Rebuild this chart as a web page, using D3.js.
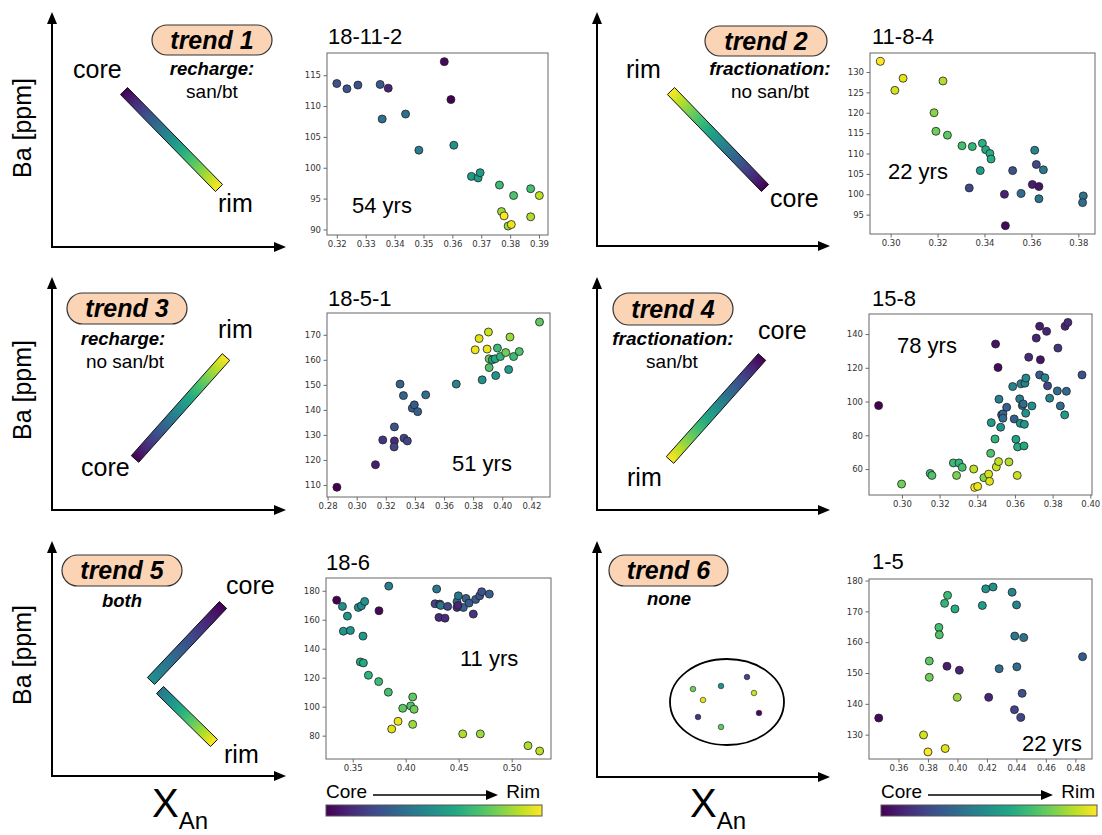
<!DOCTYPE html>
<html>
<head>
<meta charset="utf-8">
<script src="https://cdn.jsdelivr.net/npm/d3@7"></script>
<style>
  body { margin: 0; background: #fff; }
  svg text { font-family: "Liberation Sans", Arial, Helvetica, sans-serif; }
</style>
</head>
<body>
<svg id="fig" width="1102" height="835"></svg>
<script>
// ---- Sample 18-11-2 : An content, Ba [ppm], relative position core(0) -> rim(1)
const s18_11_2_xan = [0.3200,0.3235,0.3273,0.3350,0.3378,0.3572,0.3595,0.3357,0.3438,0.3484,0.3605,0.3666,0.3689,0.3696,0.3763,0.3871,0.3812,0.3901,0.3770,0.3779,0.3793,0.3804,0.3871];
const s18_11_2_ba  = [113.65,112.8,113.4,113.5,112.9,117.2,111.05,107.9,108.7,102.85,103.65,98.6,98.35,99.2,97.2,96.6,95.5,95.5,92.9,92.2,90.55,90.8,92.05];
const s18_11_2_pos = [0.25,0.25,0.25,0.28,0.1,0.02,0.0,0.37,0.37,0.42,0.5,0.55,0.55,0.55,0.68,0.7,0.72,0.9,0.85,1.0,0.85,0.97,0.88];

// ---- Sample 11-8-4
const s11_8_4_xan = [0.2956,0.3053,0.3018,0.3223,0.3185,0.3193,0.3242,0.3304,0.3348,0.3391,0.3405,0.3423,0.3428,0.3382,0.3335,0.3520,0.3485,0.3489,0.3556,0.3614,0.3621,0.3651,0.3604,0.3632,0.3632,0.3821,0.3818];
const s11_8_4_ba  = [132.6,128.45,125.5,127.8,120.0,115.45,114.5,111.9,111.7,112.5,110.95,110.0,108.65,105.8,101.55,105.8,100.0,92.3,100.2,110.8,107.3,106.0,102.4,101.9,98.9,99.6,97.95];
const s11_8_4_pos = [1.0,0.96,0.93,0.88,0.82,0.78,0.74,0.7,0.66,0.64,0.6,0.62,0.62,0.55,0.22,0.25,0.1,0.02,0.35,0.45,0.22,0.4,0.08,0.05,0.38,0.38,0.35];

// ---- Sample 18-5-1
const s18_5_1_xan = [0.2864,0.3129,0.3179,0.3259,0.3259,0.3257,0.3325,0.3348,0.3298,0.3321,0.3382,0.3396,0.3419,0.3474,0.3684,0.3862,0.3910,0.3910,0.3955,0.3932,0.3951,0.3967,0.3987,0.3814,0.3841,0.3896,0.3905,0.4024,0.4053,0.4044,0.4078,0.4117,0.4256];
const s18_5_1_ba  = [109.1,118.1,128.0,133.2,127.6,125.2,128.7,127.6,150.3,145.7,140.7,142.0,139.3,146.0,150.3,152.0,160.4,156.9,153.7,160.0,160.4,164.7,161.3,164.0,168.5,164.3,171.1,162.9,169.1,156.1,161.3,163.3,175.1];
const s18_5_1_pos = [0.0,0.08,0.15,0.25,0.12,0.2,0.22,0.2,0.32,0.32,0.3,0.28,0.3,0.36,0.45,0.5,0.78,0.72,0.52,0.6,0.6,0.68,0.65,0.97,0.95,0.97,0.92,0.78,0.85,0.55,0.68,0.72,0.75];

// ---- Sample 15-8
const s15_8_xan = [0.2876,0.2998,0.3150,0.3159,0.3273,0.3303,0.3320,0.3290,0.3381,0.3386,0.3402,0.3435,0.3460,0.3465,0.3471,0.3501,0.3513,0.3568,0.3612,0.3474,0.3494,0.3515,0.3524,0.3497,0.3510,0.3529,0.3536,0.3536,0.3556,0.3588,0.3596,0.3605,0.3614,0.3625,0.3628,0.3632,0.3639,0.3644,0.3653,0.3658,0.3650,0.3657,0.3648,0.3673,0.3690,0.3713,0.3731,0.3735,0.3731,0.3759,0.3773,0.3768,0.3784,0.3828,0.3825,0.3841,0.3866,0.3881,0.3873,0.3864,0.3956];
const s15_8_ba  = [97.6,51.1,57.4,56.2,63.6,63.6,61.0,56.2,60.0,49.1,49.7,54.9,57.0,52.7,69.3,61.2,64.4,64.2,56.2,87.5,77.8,101.4,84.8,134.1,120.2,92.1,92.7,90.1,96.6,108.9,89.7,77.6,73.1,101.6,87.1,110.5,97.6,98.6,110.9,113.9,86.5,93.1,73.7,126.3,97.4,137.6,144.6,124.8,115.8,114.1,109.3,141.6,102.0,131.7,106.3,97.4,144.6,146.9,106.1,92.1,115.8];
const s15_8_pos = [0.0,0.78,0.7,0.72,0.68,0.66,0.7,0.8,0.9,1.0,0.97,0.82,0.93,0.95,0.72,0.92,0.9,0.88,0.92,0.55,0.65,0.42,0.5,0.05,0.02,0.35,0.32,0.35,0.3,0.45,0.3,0.58,0.62,0.4,0.5,0.42,0.38,0.35,0.45,0.48,0.52,0.5,0.6,0.12,0.5,0.1,0.08,0.05,0.28,0.45,0.2,0.1,0.45,0.15,0.35,0.35,0.1,0.12,0.35,0.55,0.25];

// ---- Sample 18-6
const s18_6_xan = [0.3349,0.3403,0.3450,0.3412,0.3478,0.3553,0.3582,0.3613,0.3597,0.3748,0.3840,0.3572,0.3601,0.3648,0.3745,0.3836,0.3972,0.4047,0.4066,0.4079,0.4066,0.3928,0.3868,0.4538,0.4704,0.5154,0.5264,0.4292,0.4277,0.4321,0.4330,0.4314,0.4371,0.4396,0.4484,0.4484,0.4497,0.4544,0.4569,0.4598,0.4638,0.4660,0.4698,0.4717,0.4789,0.4494];
const s18_6_ba  = [173.5,169.2,162.5,152.1,152.6,168.5,169.6,172.6,148.7,166.2,183.2,130.9,130.2,121.7,117.3,110.0,98.9,100.5,106.7,98.2,87.8,89.9,84.6,81.2,81.2,73.1,69.4,181.2,171.0,170.8,169.9,161.6,161.1,169.2,168.5,172.4,176.5,168.5,174.7,171.5,163.9,174.0,176.5,179.3,177.7,169.9];
const s18_6_pos = [0.0,0.5,0.52,0.52,0.52,0.5,0.48,0.5,0.55,0.02,0.42,0.6,0.6,0.65,0.68,0.7,0.75,0.72,0.75,0.78,0.85,0.97,0.95,0.88,0.85,0.88,0.9,0.4,0.2,0.15,0.4,0.12,0.12,0.22,0.15,0.35,0.38,0.32,0.3,0.28,0.15,0.28,0.25,0.25,0.3,0.1];

// ---- Sample 1-5
const s1_5_xan = [0.3466,0.3770,0.3800,0.3917,0.3809,0.3809,0.3929,0.4013,0.3999,0.3874,0.3877,0.3913,0.3933,0.3983,0.4169,0.4192,0.4242,0.4371,0.4401,0.4389,0.4450,0.4283,0.4403,0.4212,0.4439,0.4387,0.4430,0.4849];
const s1_5_ba  = [135.4,129.9,124.4,125.5,153.9,148.6,152.2,150.9,142.1,164.8,162.4,172.6,175.2,170.8,171.9,177.3,177.9,176.2,172.1,162.0,161.5,151.4,152.0,142.1,143.4,138.1,135.6,155.3];
const s1_5_pos = [0.02,0.93,1.0,0.95,0.75,0.78,0.08,0.1,0.85,0.7,0.72,0.65,0.68,0.62,0.55,0.5,0.5,0.45,0.45,0.4,0.38,0.35,0.35,0.1,0.25,0.2,0.2,0.28];

// ---- Tick labels
const ticksX_18_11_2 = [0.32,0.33,0.34,0.35,0.36,0.37,0.38,0.39];
const ticksY_18_11_2 = [90,95,100,105,110,115];
const ticksX_11_8_4 = [0.30,0.32,0.34,0.36,0.38];
const ticksY_11_8_4 = [95,100,105,110,115,120,125,130];
const ticksX_18_5_1 = [0.28,0.30,0.32,0.34,0.36,0.38,0.40,0.42];
const ticksY_18_5_1 = [110,120,130,140,150,160,170];
const ticksX_15_8 = [0.30,0.32,0.34,0.36,0.38,0.40];
const ticksY_15_8 = [60,80,100,120,140];
const ticksX_18_6 = [0.35,0.40,0.45,0.50];
const ticksY_18_6 = [80,100,120,140,160,180];
const ticksX_1_5 = [0.36,0.38,0.40,0.42,0.44,0.46,0.48];
const ticksY_1_5 = [130,140,150,160,170,180];

// ---- Sample names and residence times
const sampleNames = ["18-11-2","11-8-4","18-5-1","15-8","18-6","1-5"];
const residence = ["54 yrs","22 yrs","51 yrs","78 yrs","11 yrs","22 yrs"];

const svg = d3.select("#fig");
const defs = svg.append("defs");
const viridis = d3.interpolateViridis;
let gradCount = 0;

function addViridisGradient(x1, y1, x2, y2, t1, t2) {
  const id = "vg" + (gradCount++);
  const g = defs.append("linearGradient").attr("id", id)
    .attr("gradientUnits", "userSpaceOnUse")
    .attr("x1", x1).attr("y1", y1).attr("x2", x2).attr("y2", y2);
  d3.range(0, 11).forEach(k => {
    g.append("stop").attr("offset", k / 10).attr("stop-color", viridis(t1 + (t2 - t1) * k / 10));
  });
  return id;
}

// ---------- schematic panels ----------
function arrowAxes(x0, yTop, yBot, xRight) {
  const g = svg.append("g");
  g.append("line").attr("x1", x0).attr("y1", yBot + 1).attr("x2", x0).attr("y2", yTop + 8)
    .attr("stroke", "#000").attr("stroke-width", 2);
  g.append("path").attr("d", `M${x0},${yTop} L${x0 - 5},${yTop + 12} L${x0 + 5},${yTop + 12} Z`).attr("fill", "#000");
  g.append("line").attr("x1", x0 - 1).attr("y1", yBot).attr("x2", xRight - 8).attr("y2", yBot)
    .attr("stroke", "#000").attr("stroke-width", 2);
  g.append("path").attr("d", `M${xRight},${yBot} L${xRight - 12},${yBot - 5} L${xRight - 12},${yBot + 5} Z`).attr("fill", "#000");
}

function trendBar(x1, y1, x2, y2, t1, t2) {
  const hw = 5;
  const id = addViridisGradient(x1, y1, x2, y2, t1, t2);
  const dx = x2 - x1, dy = y2 - y1, L = Math.hypot(dx, dy);
  const nx = -dy / L * hw, ny = dx / L * hw;
  svg.append("path")
    .attr("d", `M${x1 + nx},${y1 + ny}L${x2 + nx},${y2 + ny}L${x2 - nx},${y2 - ny}L${x1 - nx},${y1 - ny}Z`)
    .attr("fill", `url(#${id})`).attr("stroke", "#111").attr("stroke-width", 1);
}

function pill(x, y, w, h, label) {
  svg.append("rect").attr("x", x).attr("y", y).attr("width", w).attr("height", h)
    .attr("rx", h / 2).attr("ry", h / 2)
    .attr("fill", "#fbd4b6").attr("stroke", "#333").attr("stroke-width", 1.2);
  svg.append("text").attr("x", x + w / 2).attr("y", y + h / 2 + 8.5)
    .attr("text-anchor", "middle").attr("font-size", 25).attr("font-weight", "bold")
    .attr("font-style", "italic").text(label);
}

function txt(x, y, s, size, opts = {}) {
  const t = svg.append("text").attr("x", x).attr("y", y).attr("font-size", size).text(s);
  if (opts.anchor) t.attr("text-anchor", opts.anchor);
  if (opts.bold) t.attr("font-weight", "bold");
  if (opts.italic) t.attr("font-style", "italic");
  return t;
}

function baLabel(cy) {
  svg.append("text").attr("transform", `translate(31,${cy}) rotate(-90)`)
    .attr("text-anchor", "middle").attr("font-size", 25).text("Ba [ppm]");
}

function xAnLabel(x, y) {
  const t = svg.append("text").attr("x", x).attr("y", y).attr("font-size", 40);
  t.append("tspan").text("X");
  t.append("tspan").attr("font-size", 24).attr("dy", 12).text("An");
}

// trend 1
arrowAxes(52, 12, 247, 286);
baLabel(128);
pill(152, 25, 120, 30, "trend 1");
txt(212, 75, "recharge:", 18.5, { anchor: "middle", bold: true, italic: true });
txt(212, 98, "san/bt", 19, { anchor: "middle" });
txt(73, 78, "core", 25);
txt(218, 212, "rim", 25);
trendBar(124, 91, 219, 188, 0, 1);

// trend 2
arrowAxes(597, 12, 246, 830);
pill(705, 26, 122, 30, "trend 2");
txt(770, 75, "fractionation:", 19, { anchor: "middle", bold: true, italic: true });
txt(770, 98, "no san/bt", 19, { anchor: "middle" });
txt(626, 78, "rim", 25);
txt(770, 207, "core", 25);
trendBar(671, 91, 765, 188, 1, 0);

// trend 3
arrowAxes(52, 277, 510, 286);
baLabel(390);
pill(67, 293, 120, 31, "trend 3");
txt(123, 345, "recharge:", 18.5, { anchor: "middle", bold: true, italic: true });
txt(125, 368, "no san/bt", 19, { anchor: "middle" });
txt(218, 338, "rim", 25);
txt(81, 476, "core", 25);
trendBar(135, 459, 226, 357, 0, 1);

// trend 4
arrowAxes(597, 277, 510, 830);
pill(613, 293, 120, 32, "trend 4");
txt(673, 345, "fractionation:", 19, { anchor: "middle", bold: true, italic: true });
txt(672, 368, "san/bt", 19, { anchor: "middle" });
txt(758, 339, "core", 25);
txt(627, 486, "rim", 25);
trendBar(670, 460, 762, 357, 1, 0);

// trend 5
arrowAxes(52, 541, 776, 286);
baLabel(655);
pill(62, 555, 120, 31, "trend 5");
txt(122, 607, "both", 18.5, { anchor: "middle", bold: true, italic: true });
txt(226, 594, "core", 25);
txt(224, 763, "rim", 25);
trendBar(151, 681, 223, 605, 0.5, 0);
trendBar(160, 690, 214, 743, 0.38, 1);
xAnLabel(152, 817);

// trend 6
arrowAxes(597, 541, 777, 830);
pill(609, 555, 119, 31, "trend 6");
txt(669, 605, "none", 18.5, { anchor: "middle", bold: true, italic: true });
svg.append("ellipse").attr("cx", 727).attr("cy", 702).attr("rx", 57).attr("ry", 43)
  .attr("fill", "none").attr("stroke", "#000").attr("stroke-width", 1.8);
// a loose, patternless cloud of zoning points inside the ellipse
[[-34, -13, 0.78], [-6, -16, 0.5], [20, -25, 0.2], [27, -9, 0.92], [-24, -2, 0.95], [-29, 15, 0.15], [32, 11, 0.03], [-6, 25, 0.75]]
  .forEach(([dx, dy, t]) => {
    svg.append("circle").attr("cx", 727 + dx).attr("cy", 702 + dy).attr("r", 2.8)
      .attr("fill", viridis(t)).attr("stroke", "#222").attr("stroke-width", 0.6);
  });
xAnLabel(690, 817);

// ---------- scatter panels ----------
const panels = [
  { xan: s18_11_2_xan, ba: s18_11_2_ba, pos: s18_11_2_pos, tx: ticksX_18_11_2, ty: ticksY_18_11_2,
    box: [327, 53, 548, 235], xd: [0.3166, 0.3931], yd: [89.1, 118.6], title: [328, 44], age: [352, 213] },
  { xan: s11_8_4_xan, ba: s11_8_4_ba, pos: s11_8_4_pos, tx: ticksX_11_8_4, ty: ticksY_11_8_4,
    box: [870, 53, 1095, 234], xd: [0.2912, 0.3871], yd: [90.25, 134.66], title: [872, 44], age: [888, 179] },
  { xan: s18_5_1_xan, ba: s18_5_1_ba, pos: s18_5_1_pos, tx: ticksX_18_5_1, ty: ticksY_18_5_1,
    box: [327, 313, 550, 497], xd: [0.2796, 0.4328], yd: [105.2, 178.7], title: [328, 306], age: [452, 471] },
  { xan: s15_8_xan, ba: s15_8_ba, pos: s15_8_pos, tx: ticksX_15_8, ty: ticksY_15_8,
    box: [869, 314, 1092, 495], xd: [0.2825, 0.4009], yd: [44.6, 151.9], title: [872, 306], age: [897, 353] },
  { xan: s18_6_xan, ba: s18_6_ba, pos: s18_6_pos, tx: ticksX_18_6, ty: ticksY_18_6,
    box: [326, 578, 551, 759], xd: [0.3248, 0.5371], yd: [63.9, 188.8], title: [326, 570], age: [460, 666] },
  { xan: s1_5_xan, ba: s1_5_ba, pos: s1_5_pos, tx: ticksX_1_5, ty: ticksY_1_5,
    box: [869, 579, 1092, 759], xd: [0.34, 0.4913], yd: [122.1, 180.5], title: [872, 569], age: [1022, 751] }
];

panels.forEach((p, i) => {
  const [x0, y0, x1, y1] = p.box;
  const x = d3.scaleLinear().domain(p.xd).range([x0, x1]);
  const y = d3.scaleLinear().domain(p.yd).range([y1, y0]);
  const g = svg.append("g");

  const xa = g.append("g").attr("transform", `translate(0,${y1})`)
    .call(d3.axisBottom(x).tickValues(p.tx).tickFormat(d3.format(".2f")).tickSize(3.5).tickPadding(2.5));
  const ya = g.append("g").attr("transform", `translate(${x0},0)`)
    .call(d3.axisLeft(y).tickValues(p.ty).tickFormat(d3.format("d")).tickSize(3.5).tickPadding(2.5));
  [xa, ya].forEach(a => {
    a.select(".domain").remove();
    a.selectAll("line").attr("stroke", "#444").attr("stroke-width", 0.8);
    a.selectAll("text").attr("font-size", 8.5).attr("fill", "#333")
      .style("font-family", "'DejaVu Sans', sans-serif");
  });

  g.append("rect").attr("x", x0).attr("y", y0).attr("width", x1 - x0).attr("height", y1 - y0)
    .attr("fill", "none").attr("stroke", "#666").attr("stroke-width", 1);

  g.selectAll("circle.pt").data(p.xan.map((v, k) => ({ a: v, b: p.ba[k], t: p.pos[k] })))
    .enter().append("circle").attr("class", "pt")
    .attr("cx", d => x(d.a)).attr("cy", d => y(d.b)).attr("r", 4)
    .attr("fill", d => viridis(d.t)).attr("stroke", "#222").attr("stroke-width", 0.8);

  txt(p.title[0], p.title[1], sampleNames[i], 22);
  txt(p.age[0], p.age[1], residence[i], 22);
});

// ---------- core -> rim colour bars ----------
function colourBar(x0, x1) {
  const yb = 805, h = 11;
  const id = addViridisGradient(x0, 0, x1, 0, 0, 1);
  svg.append("rect").attr("x", x0).attr("y", yb).attr("width", x1 - x0).attr("height", h)
    .attr("fill", `url(#${id})`).attr("stroke", "#555").attr("stroke-width", 1);
  txt(x0, 798, "Core", 19);
  txt(x1 - 2, 798, "Rim", 19, { anchor: "end" });
  const a0 = x0 + 47, a1 = x1 - 44;
  svg.append("line").attr("x1", a0).attr("y1", 795).attr("x2", a1 - 8).attr("y2", 795)
    .attr("stroke", "#000").attr("stroke-width", 1.6);
  svg.append("path").attr("d", `M${a1},795 L${a1 - 12},790 L${a1 - 12},800 Z`).attr("fill", "#000");
}
colourBar(326, 542);
colourBar(881, 1097);
</script>
</body>
</html>
